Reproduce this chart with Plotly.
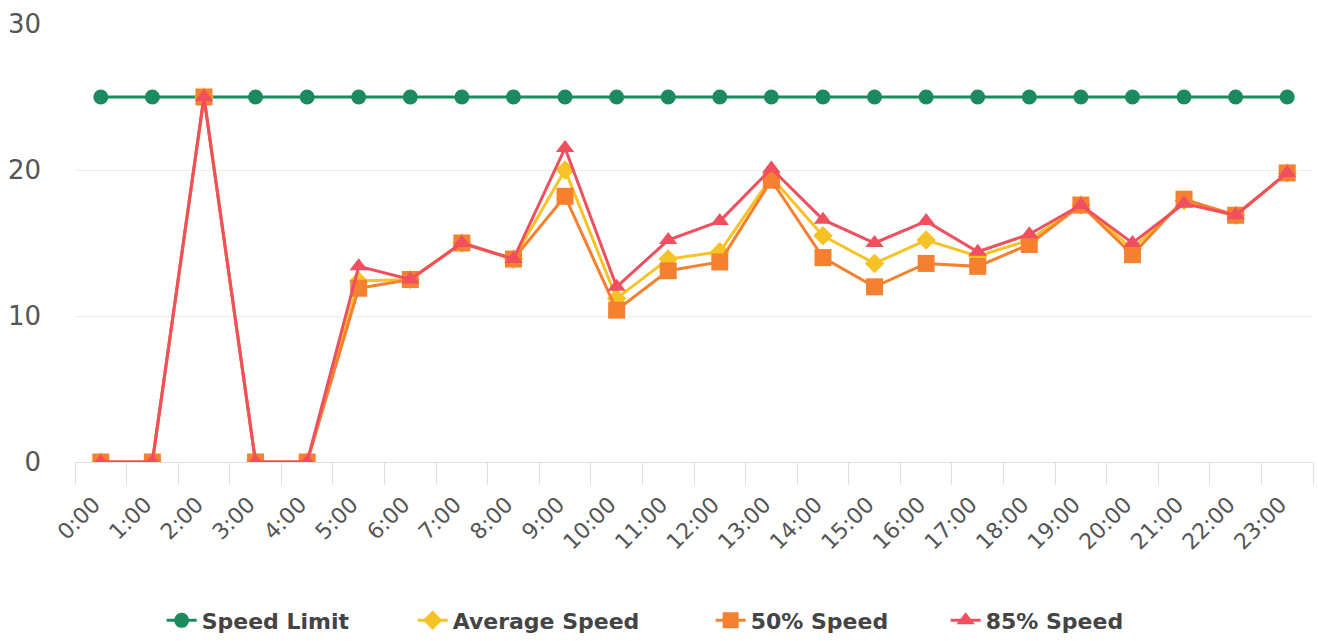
import plotly.graph_objects as go

hours = [f"{h}:00" for h in range(24)]
speed_limit = [25] * 24
average_speed = [0, 0, 25, 0, 0, 12.4, 12.5, 15.0, 13.9, 20.0, 11.2, 13.9, 14.4, 19.5,
                 15.5, 13.6, 15.2, 14.1, 15.2, 17.6, 14.6, 17.9, 16.9, 19.8]
p50_speed = [0, 0, 25, 0, 0, 11.9, 12.5, 15.0, 13.9, 18.2, 10.4, 13.1, 13.7, 19.3,
             14.0, 12.0, 13.6, 13.4, 14.9, 17.6, 14.2, 18.0, 16.9, 19.8]
p85_speed = [0, 0, 25, 0, 0, 13.4, 12.5, 15.0, 13.9, 21.5, 12.0, 15.2, 16.5, 20.1,
             16.6, 15.0, 16.5, 14.4, 15.6, 17.6, 15.0, 17.7, 16.9, 19.8]

series = [
    ("Speed Limit", speed_limit, "#1b8a5e", "circle", 15, 206),
    ("Average Speed", average_speed, "#f6c327", "diamond", 15, 253),
    ("50% Speed", p50_speed, "#f58130", "square", 17, 190),
    ("85% Speed", p85_speed, "#f04f5f", "triangle-up", 16, 180),
]

fig = go.Figure()
for name, vals, color, sym, size, lw in series:
    fig.add_trace(go.Scatter(
        x=hours, y=vals, name=name, mode="lines+markers",
        line=dict(color=color, width=3),
        marker=dict(color=color, symbol=sym, size=size),
        legendwidth=lw,
    ))

fig.update_layout(
    width=1318, height=641,
    margin=dict(l=75, r=5, t=24, b=179, autoexpand=False),
    paper_bgcolor="white", plot_bgcolor="white",
    font=dict(family="DejaVu Sans", color="#555555"),
    showlegend=True,
    legend=dict(orientation="h", x=0.4775, xanchor="center", y=-0.314, yanchor="top",
                font=dict(family="DejaVu Sans", size=22, color="#444444", weight="bold"),
                itemwidth=30, tracegroupgap=0),
    xaxis=dict(type="category", tickson="boundaries", ticks="outside", ticklen=22,
               tickcolor="#e0e0e0", tickwidth=1, showgrid=False, showline=True,
               linecolor="#e0e0e0", linewidth=1, tickangle=-45, automargin=False,
               ticklabelstandoff=20, ticklabelshift=-7,
               tickfont=dict(size=22, color="#555555"), range=[-0.5, 23.5]),
    yaxis=dict(range=[0, 30], tickvals=[0, 10, 20, 30], showgrid=True, automargin=False,
               gridcolor="#ededed", gridwidth=1, zeroline=False, showline=False,
               tickfont=dict(size=26, color="#555555"), ticklabelstandoff=33),
)

fig.write_html("out.html", config={"displayModeBar": False},
               post_script="document.body.style.margin='0';")
